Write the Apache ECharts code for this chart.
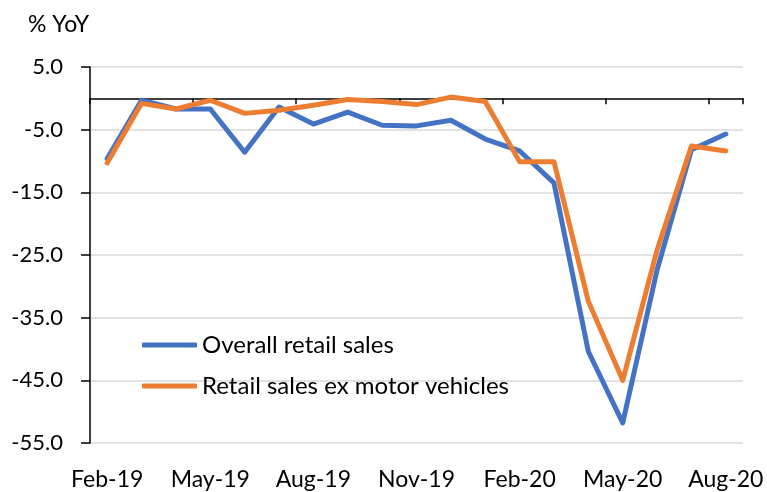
<!DOCTYPE html>
<html>
<head>
<meta charset="utf-8">
<script src="https://cdn.jsdelivr.net/npm/echarts@6/dist/echarts.min.js"></script>
<style>
html,body{margin:0;padding:0;background:#fff;}
#chart{width:767px;height:492px;}
</style>
</head>
<body>
<div id="chart"></div>
<script>
const categories = ['Feb-19','Mar-19','Apr-19','May-19','Jun-19','Jul-19','Aug-19','Sep-19','Oct-19','Nov-19','Dec-19','Jan-20','Feb-20','Mar-20','Apr-20','May-20','Jun-20','Jul-20','Aug-20'];
const overallRetail = [-9.6, -0.3, -1.7, -1.7, -8.6, -1.4, -4.1, -2.2, -4.3, -4.4, -3.5, -6.5, -8.4, -13.5, -40.4, -51.8, -27.4, -8.2, -5.7];
const exMotor = [-10.3, -0.8, -1.7, -0.3, -2.4, -1.9, -1.1, -0.2, -0.5, -1.0, 0.2, -0.5, -10.1, -10.1, -32.4, -45.0, -24.2, -7.6, -8.4];
const seriesNames = ['Overall retail sales', 'Retail sales ex motor vehicles'];
const yTitle = '% YoY';

const FONT = 'Lato';
const chart = echarts.init(document.getElementById('chart'), null, {renderer: 'canvas'});
chart.setOption({
  animation: false,
  backgroundColor: '#fff',
  title: {
    text: yTitle, left: 28, top: 11, padding: 0,
    textStyle: {fontFamily: FONT, fontSize: 23, fontWeight: 'normal', color: '#000', lineHeight: 28}
  },
  grid: {left: 90, right: 24, top: 67, bottom: 49, containLabel: false},
  legend: {
    orient: 'vertical', left: 142, top: 331, padding: 0,
    itemWidth: 55, itemHeight: 5, itemGap: 13,
    icon: 'roundRect',
    textStyle: {fontFamily: FONT, fontSize: 24, color: '#000', lineHeight: 28},
    data: seriesNames
  },
  xAxis: [
    {
      type: 'category', data: categories, boundaryGap: true,
      axisLine: {onZero: true, lineStyle: {color: '#000', width: 1.5}},
      axisTick: {show: true, interval: 2, length: 6, lineStyle: {color: '#000', width: 1.5}},
      axisLabel: {show: false},
      splitLine: {show: false}
    },
    {
      type: 'category', data: categories, boundaryGap: true, position: 'bottom',
      axisLine: {show: false, onZero: false},
      axisTick: {show: false},
      axisLabel: {show: true, interval: 2, margin: 25, fontFamily: FONT, fontSize: 23, color: '#000'},
      splitLine: {show: false}
    }
  ],
  yAxis: {
    type: 'value', min: -55, max: 5, interval: 10,
    axisLine: {show: true, lineStyle: {color: '#000', width: 1.5}},
    axisTick: {show: true, length: 9, lineStyle: {color: '#000', width: 1.5}},
    axisLabel: {formatter: v => v.toFixed(1), margin: 27, fontFamily: FONT, fontSize: 22, color: '#000'},
    splitLine: {show: true, lineStyle: {color: '#d9d9d9', width: 1.5}}
  },
  series: [
    {
      name: seriesNames[0], type: 'line', data: overallRetail, xAxisIndex: 0,
      showSymbol: false, symbol: 'none',
      lineStyle: {color: '#4472C4', width: 5, join: 'round', cap: 'round'},
      itemStyle: {color: '#4472C4'}
    },
    {
      name: seriesNames[1], type: 'line', data: exMotor, xAxisIndex: 0,
      showSymbol: false, symbol: 'none',
      lineStyle: {color: '#ED7D31', width: 5, join: 'round', cap: 'round'},
      itemStyle: {color: '#ED7D31'}
    }
  ]
});
</script>
</body>
</html>
